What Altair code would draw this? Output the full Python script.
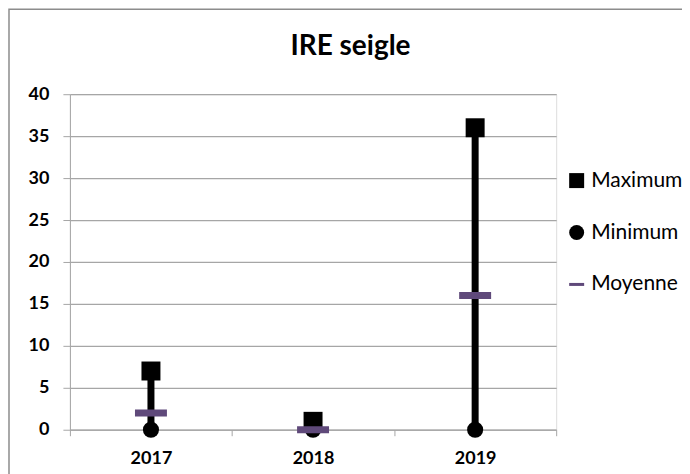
import altair as alt
import pandas as pd

years = ["2017", "2018", "2019"]
maximum = [7, 1, 36]
minimum = [0, 0, 0]
moyenne = [2, 0, 16]
series = ["Maximum", "Minimum", "Moyenne"]
title_text = "IRE seigle"

df = pd.DataFrame({"annee": years, "max": maximum, "min": minimum, "moy": moyenne})
long = pd.concat([
    pd.DataFrame({"annee": years, "serie": "Maximum", "valeur": maximum}),
    pd.DataFrame({"annee": years, "serie": "Minimum", "valeur": minimum}),
    pd.DataFrame({"annee": years, "serie": "Moyenne", "valeur": moyenne}),
])

FONT = "Lato"
x_enc = alt.X("annee:N", title=None, sort=years,
              scale=alt.Scale(paddingInner=0, paddingOuter=0),
              axis=alt.Axis(labelAngle=0, labelFont=FONT, labelFontSize=18, labelFontWeight="bold",
                            labelColor="#000000", domainColor="#A6A6A6", tickColor="#A6A6A6",
                            tickBand="extent", tickSize=6, labelPadding=14, grid=False))
y_scale = alt.Scale(domain=[0, 40])
y_axis = alt.Axis(values=list(range(0, 41, 5)), labelFont=FONT, labelFontSize=18, labelFontWeight="bold",
                  labelColor="#000000", domainColor="#A6A6A6", tickColor="#A6A6A6", tickSize=7,
                  labelPadding=14, gridColor="#A6A6A6", gridWidth=1.3, title=None)

base = alt.Chart(df)

rule = base.mark_rule(color="#000000", strokeWidth=7).encode(
    x=x_enc,
    y=alt.Y("min:Q", scale=y_scale, axis=y_axis),
    y2="max:Q",
)

shape_scale = alt.Scale(domain=series,
                        range=["square", "circle", "M-1,-0.2H1V0.2H-1Z"])
color_scale = alt.Scale(domain=series, range=["#000000", "#000000", "#5F497A"])

legend = alt.Legend(title=None, orient="none", legendX=497, legendY=76,
                    labelFont=FONT, labelFontSize=21, labelColor="#000000",
                    symbolSize=225, rowPadding=30, symbolStrokeWidth=0,
                    labelOffset=4, symbolOpacity=1)

pts = alt.Chart(long).transform_filter(alt.datum.serie == "Maximum").mark_point(
    filled=True, opacity=1, size=361).encode(
    x=alt.X("annee:N", sort=years),
    y=alt.Y("valeur:Q", scale=y_scale),
    shape=alt.Shape("serie:N", scale=shape_scale, legend=legend),
    color=alt.Color("serie:N", scale=color_scale, legend=legend),
)

circles = alt.Chart(long).transform_filter(alt.datum.serie == "Minimum").mark_point(
    filled=True, opacity=1, size=260, shape="circle", color="#000000").encode(
    x=alt.X("annee:N", sort=years),
    y=alt.Y("valeur:Q", scale=y_scale),
)

moy = alt.Chart(long).transform_filter(alt.datum.serie == "Moyenne").mark_tick(
    thickness=7, size=32, opacity=1, orient="horizontal").encode(
    x=alt.X("annee:N", sort=years),
    y=alt.Y("valeur:Q", scale=y_scale),
    color=alt.Color("serie:N", scale=color_scale, legend=legend),
    shape=alt.Shape("serie:N", scale=shape_scale, legend=legend),
)

title = alt.Chart(pd.DataFrame({"t": [title_text]})).mark_text(
    font=FONT, fontSize=28, fontWeight="bold", color="#000000", align="center", baseline="alphabetic").encode(
    text="t:N", x=alt.value(281), y=alt.value(-39))

border = alt.Chart(pd.DataFrame({"a": [0]})).mark_rect(
    fill=None, stroke="#8C8C8C", strokeWidth=1.5).encode(
    x=alt.value(-61), x2=alt.value(700), y=alt.value(-85), y2=alt.value(420))

chart = alt.layer(rule, pts, circles, moy, title, border).properties(
    width=487, height=336,
    padding={"left": 62, "top": 86, "right": 126, "bottom": 44},
    autosize=alt.AutoSizeParams(type="none"),
).configure_view(stroke=None).configure(background="white")

chart.save("out.html", embed_options={"renderer": "svg", "actions": False})
